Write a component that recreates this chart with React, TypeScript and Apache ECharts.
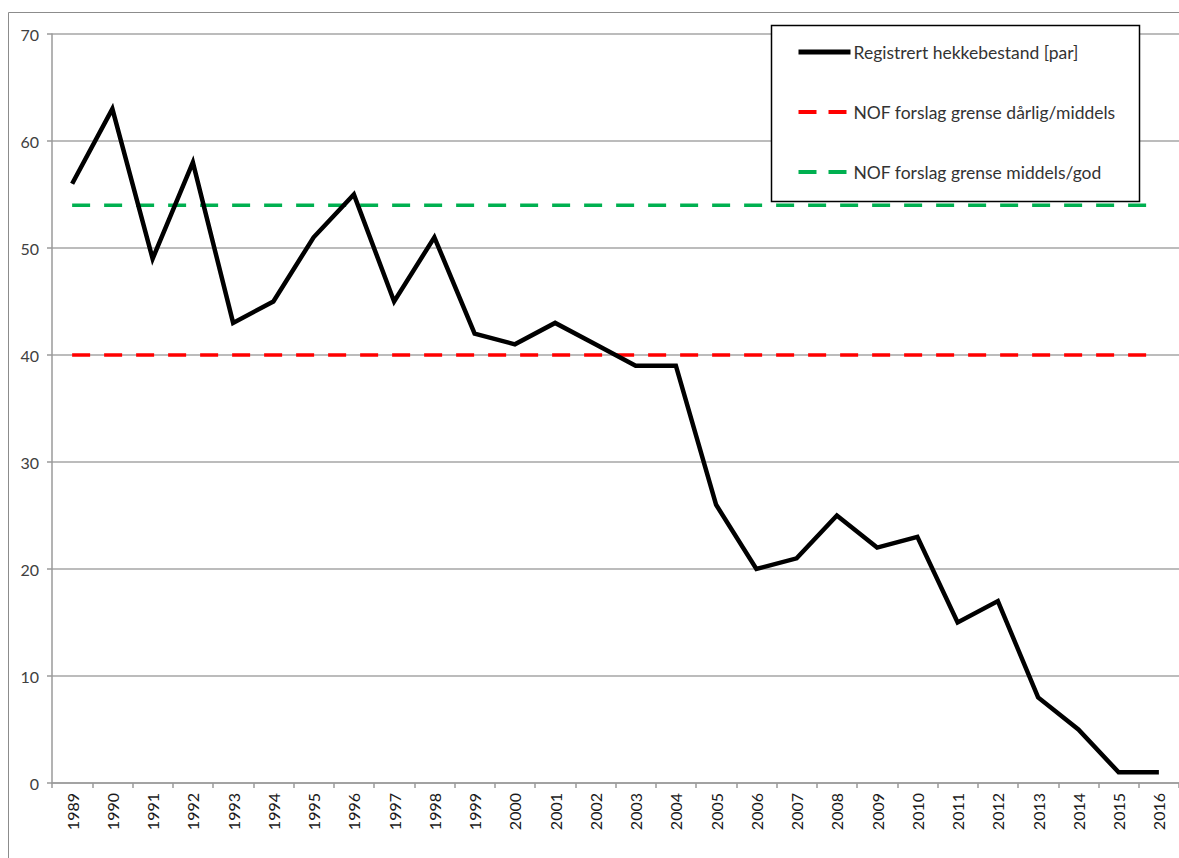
import React, { useEffect, useRef } from "react";
import * as echarts from "echarts";

const years = ["1989","1990","1991","1992","1993","1994","1995","1996","1997","1998","1999","2000","2001","2002","2003","2004","2005","2006","2007","2008","2009","2010","2011","2012","2013","2014","2015","2016"];
const pairs = [56,63,49,58,43,45,51,55,45,51,42,41,43,41,39,39,26,20,21,25,22,23,15,17,8,5,1,1];
const limitPoorMedium = 40;
const limitMediumGood = 54;
const seriesNames = ["Registrert hekkebestand [par]", "NOF forslag grense dårlig/middels", "NOF forslag grense middels/god"];
const yTicks = { min: 0, max: 70, interval: 10 };

export default function App() {
  const ref = useRef<HTMLDivElement>(null);
  useEffect(() => {
    document.body.style.margin = "0";
    document.body.style.overflow = "hidden";
    const chart = echarts.init(ref.current!, null, { renderer: "svg" });
    const font = "Lato, 'Open Sans', sans-serif";
    chart.setOption({
      animation: false,
      backgroundColor: "#ffffff",
      textStyle: { fontFamily: font },
      grid: { left: 52, top: 34, width: 1133, height: 749, containLabel: false },
      graphic: [
        {
          type: "rect",
          shape: { x: 8.5, y: 12.5, width: 1250, height: 900 },
          style: { fill: "none", stroke: "#8c8c8c", lineWidth: 1 },
          z: 0,
        },
        {
          type: "rect",
          shape: { x: 771.5, y: 25.5, width: 368, height: 176 },
          style: { fill: "#ffffff", stroke: "#000000", lineWidth: 1.5 },
          z: 50,
        },
      ],
      legend: {
        orient: "vertical",
        left: 796,
        top: 43,
        padding: 0,
        itemWidth: 52,
        itemHeight: 16,
        itemGap: 42,
        z: 60,
        itemStyle: { opacity: 0 },
        textStyle: { fontSize: 17.5, color: "#333333", fontFamily: font, padding: [0, 0, 0, -2] },
        data: [
          { name: seriesNames[0], lineStyle: { width: 5 } },
          { name: seriesNames[1], lineStyle: { width: 4, type: [18, 12] } },
          { name: seriesNames[2], lineStyle: { width: 4, type: [18, 12] } },
        ],
      },
      xAxis: {
        type: "category",
        data: years,
        boundaryGap: true,
        axisLine: { show: true, lineStyle: { color: "#9a9a9a", width: 1.5 } },
        axisTick: { show: true, length: 5, lineStyle: { color: "#9a9a9a", width: 1.5 } },
        axisLabel: { rotate: 90, fontSize: 16, color: "#1a1a1a", margin: 10, fontFamily: font },
        splitLine: { show: false },
      },
      yAxis: {
        type: "value",
        min: yTicks.min,
        max: yTicks.max,
        interval: yTicks.interval,
        axisLine: { show: true, lineStyle: { color: "#9a9a9a", width: 1.5 } },
        axisTick: { show: true, length: 5, lineStyle: { color: "#9a9a9a", width: 1.5 } },
        axisLabel: { fontSize: 16, color: "#404040", margin: 13, fontFamily: font },
        splitLine: { show: true, lineStyle: { color: "#a6a6a6", width: 1.5 } },
      },
      series: [
        {
          name: seriesNames[1],
          type: "line",
          data: years.map(() => limitPoorMedium),
          symbol: "none",
          lineStyle: { color: "#ff0000", width: 3.5, type: [18, 14] },
          itemStyle: { color: "#ff0000" },
          z: 3,
        },
        {
          name: seriesNames[2],
          type: "line",
          data: years.map(() => limitMediumGood),
          symbol: "none",
          lineStyle: { color: "#00b050", width: 3.5, type: [18, 14] },
          itemStyle: { color: "#00b050" },
          z: 3,
        },
        {
          name: seriesNames[0],
          type: "line",
          data: pairs,
          symbol: "none",
          lineStyle: { color: "#000000", width: 4.5, join: "miter" },
          itemStyle: { color: "#000000" },
          z: 4,
        },
      ],
    });
    return () => chart.dispose();
  }, []);
  return <div ref={ref} style={{ width: 1179, height: 858 }} />;
}
